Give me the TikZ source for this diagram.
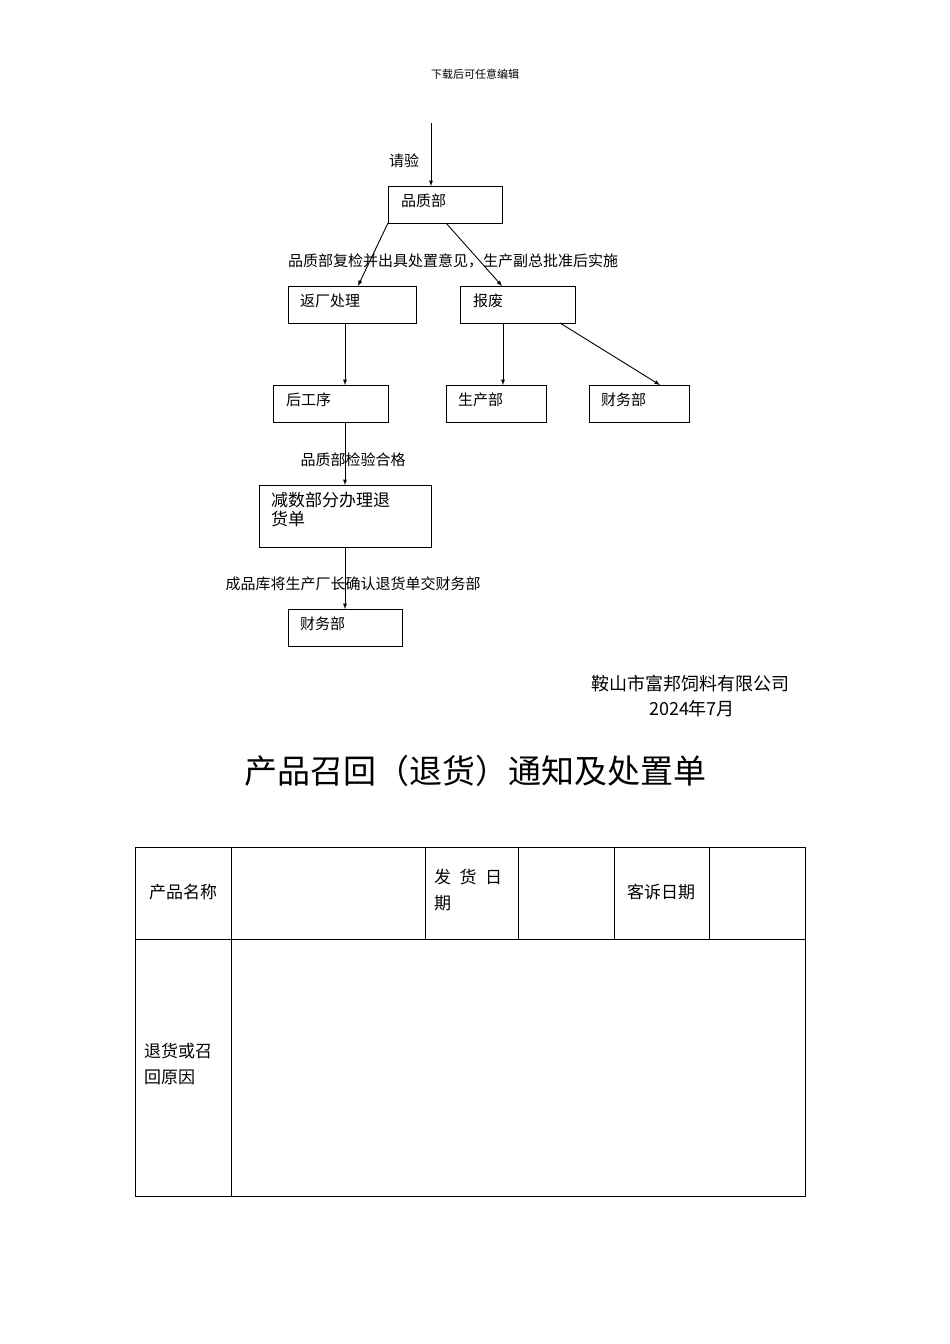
\documentclass[tikz,border=0pt]{standalone}
\usepackage{fontspec}
\setmainfont{Liberation Serif}
\newfontfamily\cjk{Noto Sans CJK SC}
\begin{document}
\begin{tikzpicture}[x=1pt,y=-1pt,
 bx/.style={draw,line width=1pt},
 ar/.style={-latex,line width=0.9pt},
 t/.style={font=\cjk\fontsize{15}{17}\selectfont,inner sep=0pt},
 tl/.style={t,anchor=west}]
\useasboundingbox (0,0) rectangle (950,1344);
\node[font=\cjk\fontsize{11}{12}\selectfont] (hd) at (475,74) {下载后可任意编辑};
\coordinate (top) at (431,123);
\draw[bx] (388,186) rectangle (502,223); \node[tl] (n1) at (401,201) {品质部};
\coordinate (n1b) at (431,186);
\draw[ar] (top) -- (n1b);
\node[t] (l1) at (404,161) {请验};
\draw[bx] (288,286) rectangle (416,323); \node[tl] (n2) at (300,301) {返厂处理};
\draw[bx] (460,286) rectangle (575,323); \node[tl] (n3) at (473,301) {报废};
\draw[ar] (388,223) -- (358,286);
\draw[ar] (446,223) -- (502,286);
\node[t] (l2) at (453,261) {品质部复检并出具处置意见，生产副总批准后实施};
\draw[bx] (273,385) rectangle (388,422); \node[tl] (n4) at (286,400) {后工序};
\draw[bx] (446,385) rectangle (546,422); \node[tl] (n5) at (458,400) {生产部};
\draw[bx] (589,385) rectangle (689,422); \node[tl] (n6) at (601,400) {财务部};
\draw[ar] (345,323) -- (345,385);
\draw[ar] (503,323) -- (503,385);
\draw[ar] (560,323) -- (660,385);
\draw[ar] (345,422) -- (345,485);
\node[t] (l3) at (353,460) {品质部检验合格};
\draw[bx] (259,485) rectangle (431,547);
\node[anchor=north west,inner sep=0pt,align=left,font=\cjk\fontsize{17}{19}\selectfont] (n7) at (271,492) {减数部分办理退\\货单};
\draw[ar] (345,547) -- (345,609);
\node[t] (l4) at (353,584) {成品库将生产厂长确认退货单交财务部};
\draw[bx] (288,609) rectangle (402,646); \node[tl] (n8) at (300,624) {财务部};
\node[anchor=east,font=\cjk\fontsize{18}{20}\selectfont] (co) at (793,684) {鞍山市富邦饲料有限公司};
\node[font=\cjk\fontsize{18}{20}\selectfont] (dt) at (692,709) {2024年7月};
\node[font=\cjk\fontsize{33}{36}\selectfont] (ti) at (475,771) {产品召回（退货）通知及处置单};
\draw[line width=0.8pt] (135,847) rectangle (805,1196);
\draw[line width=0.8pt] (135,939) -- (805,939);
\draw[line width=0.8pt] (231,847) -- (231,1196);
\foreach \x in {425,518,614,709} \draw[line width=0.8pt] (\x,847) -- (\x,939);
\node[font=\cjk\fontsize{17}{19}\selectfont] (c1) at (183,892) {产品名称};
\node[anchor=north west,align=left,inner sep=0pt,font=\cjk\fontsize{17}{26}\selectfont] (c2) at (434,869) {发\hspace{0.5em}货\hspace{0.5em}日\\期};
\node[font=\cjk\fontsize{17}{19}\selectfont] (c3) at (661,892) {客诉日期};
\node[anchor=north west,align=left,inner sep=0pt,font=\cjk\fontsize{17}{26}\selectfont] (c4) at (144,1043) {退货或召\\回原因};
\end{tikzpicture}
\end{document}
